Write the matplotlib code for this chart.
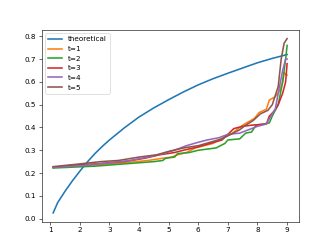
import matplotlib
matplotlib.use("Agg")
import matplotlib.pyplot as plt

theo_x = [1.1, 1.25, 1.5, 1.75, 2.0, 2.25, 2.5, 2.75, 3.0, 3.5, 4.0, 4.5, 5.0, 5.5, 6.0, 6.5, 7.0, 7.5, 8.0, 8.5, 9.0]
theo_y = [0.025, 0.07, 0.12, 0.166, 0.208, 0.248, 0.284, 0.316, 0.345, 0.398, 0.446, 0.486, 0.522, 0.556, 0.587, 0.614, 0.638, 0.661, 0.684, 0.703, 0.72]

t1_x = [1.1, 2.5, 3.5, 4.3, 4.8, 5.1, 5.3, 5.6, 5.9, 6.2, 6.5, 6.7, 6.9, 7.1, 7.3, 7.5, 7.7, 7.9, 8.05, 8.3, 8.4, 8.6, 8.75, 8.85, 8.9, 9.0]
t1_y = [0.225, 0.235, 0.245, 0.255, 0.265, 0.27, 0.28, 0.29, 0.31, 0.32, 0.33, 0.345, 0.36, 0.37, 0.39, 0.41, 0.425, 0.44, 0.465, 0.48, 0.52, 0.535, 0.56, 0.60, 0.64, 0.63]

t2_x = [1.1, 2.5, 3.5, 4.5, 4.8, 4.9, 5.2, 5.3, 5.7, 6.0, 6.3, 6.6, 6.9, 7.0, 7.4, 7.6, 7.8, 7.95, 8.2, 8.4, 8.5, 8.7, 8.85, 8.95, 9.0]
t2_y = [0.222, 0.23, 0.24, 0.25, 0.255, 0.265, 0.27, 0.285, 0.29, 0.30, 0.305, 0.31, 0.33, 0.345, 0.35, 0.375, 0.38, 0.41, 0.415, 0.42, 0.45, 0.50, 0.60, 0.70, 0.76]

t3_x = [1.1, 1.8, 2.5, 3.5, 4.2, 4.7, 5.2, 5.5, 6.0, 6.4, 6.8, 7.0, 7.2, 7.5, 7.8, 8.3, 8.4, 8.55, 8.7, 8.85, 8.95, 9.0]
t3_y = [0.225, 0.235, 0.24, 0.25, 0.265, 0.28, 0.29, 0.30, 0.315, 0.33, 0.345, 0.37, 0.395, 0.405, 0.41, 0.415, 0.45, 0.47, 0.50, 0.55, 0.60, 0.68]

t4_x = [1.1, 2.0, 3.0, 3.7, 4.3, 4.8, 5.2, 5.6, 6.0, 6.3, 6.7, 7.0, 7.4, 7.7, 8.0, 8.3, 8.45, 8.6, 8.7, 8.85, 8.95, 9.0]
t4_y = [0.225, 0.232, 0.245, 0.255, 0.27, 0.285, 0.30, 0.32, 0.335, 0.345, 0.355, 0.37, 0.375, 0.39, 0.405, 0.415, 0.45, 0.48, 0.55, 0.65, 0.70, 0.70]

t5_x = [1.1, 2.0, 2.7, 3.3, 4.0, 4.6, 5.0, 5.5, 6.0, 6.4, 6.8, 7.1, 7.4, 7.6, 7.85, 8.1, 8.35, 8.5, 8.7, 8.8, 8.9, 9.0]
t5_y = [0.228, 0.24, 0.25, 0.255, 0.27, 0.28, 0.295, 0.31, 0.32, 0.335, 0.35, 0.37, 0.39, 0.41, 0.43, 0.46, 0.475, 0.50, 0.58, 0.70, 0.77, 0.79]

series = [("t=1", t1_x, t1_y), ("t=2", t2_x, t2_y), ("t=3", t3_x, t3_y),
          ("t=4", t4_x, t4_y), ("t=5", t5_x, t5_y)]

fig, ax = plt.subplots(figsize=(6.4, 4.8), dpi=332 / 6.4)
ax.plot(theo_x, theo_y, label="theoretical", linewidth=2.2)
for name, xs, ys in series:
    ax.plot(xs, ys, label=name, linewidth=2.2)
ax.set_xticks(range(1, 10))
ax.set_yticks([i / 10 for i in range(9)])
ax.legend(loc="upper left")
fig.savefig("out.png", dpi=332 / 6.4)
